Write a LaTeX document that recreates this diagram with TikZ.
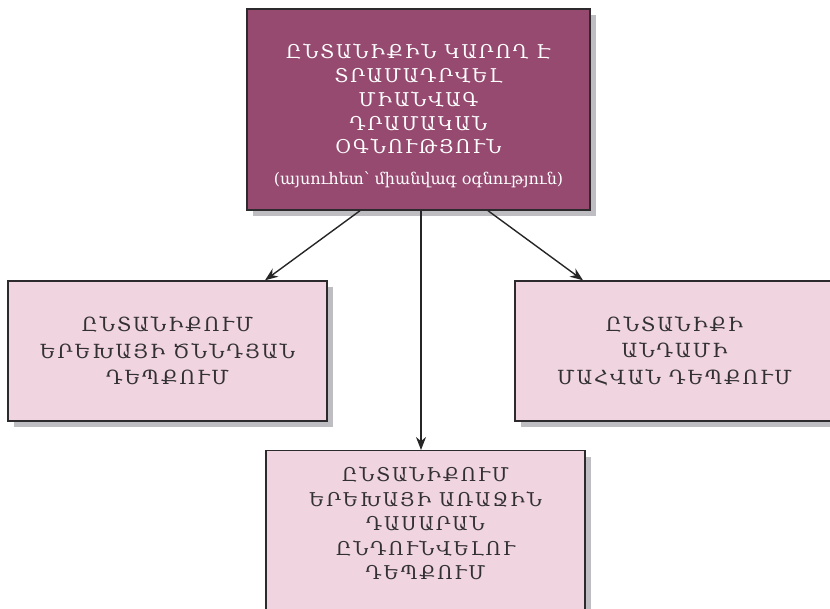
\documentclass[tikz,border=0pt]{standalone}
\usepackage{fontspec}
\setmainfont{DejaVu Serif}
\newfontfamily\spacedcaps[LetterSpace=10]{DejaVu Serif}
\newcommand\wgap{\kern8pt}
\usetikzlibrary{shadows,arrows.meta}
\definecolor{plum}{RGB}{150,74,112}
\definecolor{blush}{RGB}{240,212,224}
\definecolor{shade}{RGB}{190,190,194}
\definecolor{edge}{RGB}{45,42,45}
\definecolor{ink}{RGB}{50,48,50}
\begin{document}
\begin{tikzpicture}[x=1pt,y=-1pt,
  box/.style={draw=edge, line width=1.4pt, rectangle, inner sep=0pt,
    drop shadow={shadow xshift=6pt, shadow yshift=-6pt, fill=shade, opacity=1}},
  headbox/.style={box, fill=plum, text=white, align=center,
    font=\spacedcaps\fontsize{19}{23.75}\selectfont},
  casebox/.style={box, fill=blush, text=ink, align=center,
    font=\spacedcaps\fontsize{19.5}{26.5}\selectfont},
  caselabel/.style={text=ink, align=center, inner sep=0pt,
    font=\spacedcaps\fontsize{19}{24.5}\selectfont},
  arr/.style={draw=black!85, line width=1.4pt,
    -{Stealth[length=13pt,width=10pt]}}]
\useasboundingbox (0,0) rectangle (830,609);
% main box; the strut on the first line lowers the text block a little
\node[headbox, minimum width=343pt, minimum height=201pt] (head) at (418.5,109.5)
  {\rule{0pt}{28pt}ԸՆՏԱՆԻՔԻՆ\wgap ԿԱՐՈՂ\wgap Է\\ ՏՐԱՄԱԴՐՎԵԼ\\ ՄԻԱՆՎԱԳ\\ ԴՐԱՄԱԿԱՆ\\ ՕԳՆՈՒԹՅՈՒՆ\\[7pt]
   {\rmfamily\fontsize{16}{24}\selectfont (այսուհետ՝ միանվագ օգնություն)}};
% three cases
\node[casebox, minimum width=319pt, minimum height=140pt] (birth) at (167.5,351)
  {ԸՆՏԱՆԻՔՈՒՄ\\ ԵՐԵԽԱՅԻ\wgap ԾՆՆԴՅԱՆ\\ ԴԵՊՔՈՒՄ};
\node[casebox, minimum width=319pt, minimum height=140pt] (death) at (674.5,351)
  {ԸՆՏԱՆԻՔԻ\\ ԱՆԴԱՄԻ\\ ՄԱՀՎԱՆ\wgap ԴԵՊՔՈՒՄ};
\node[casebox, minimum width=319pt, minimum height=200pt, anchor=north] (school) at (425.5,450) {};
\node[caselabel] (schooltext) at (425.5,523.5)
  {ԸՆՏԱՆԻՔՈՒՄ\\ ԵՐԵԽԱՅԻ\wgap ԱՌԱՋԻՆ\\ ԴԱՍԱՐԱՆ\\ ԸՆԴՈՒՆՎԵԼՈՒ\\ ԴԵՊՔՈՒՄ};
% connectors
\draw[arr] ([xshift=-58.5pt]head.south) -- ([xshift=97.5pt]birth.north);
\draw[arr] ([xshift=2.5pt]head.south) -- ([xshift=-4.5pt]school.north);
\draw[arr] ([xshift=69.5pt]head.south) -- ([xshift=-91.5pt]death.north);
\end{tikzpicture}
\end{document}
